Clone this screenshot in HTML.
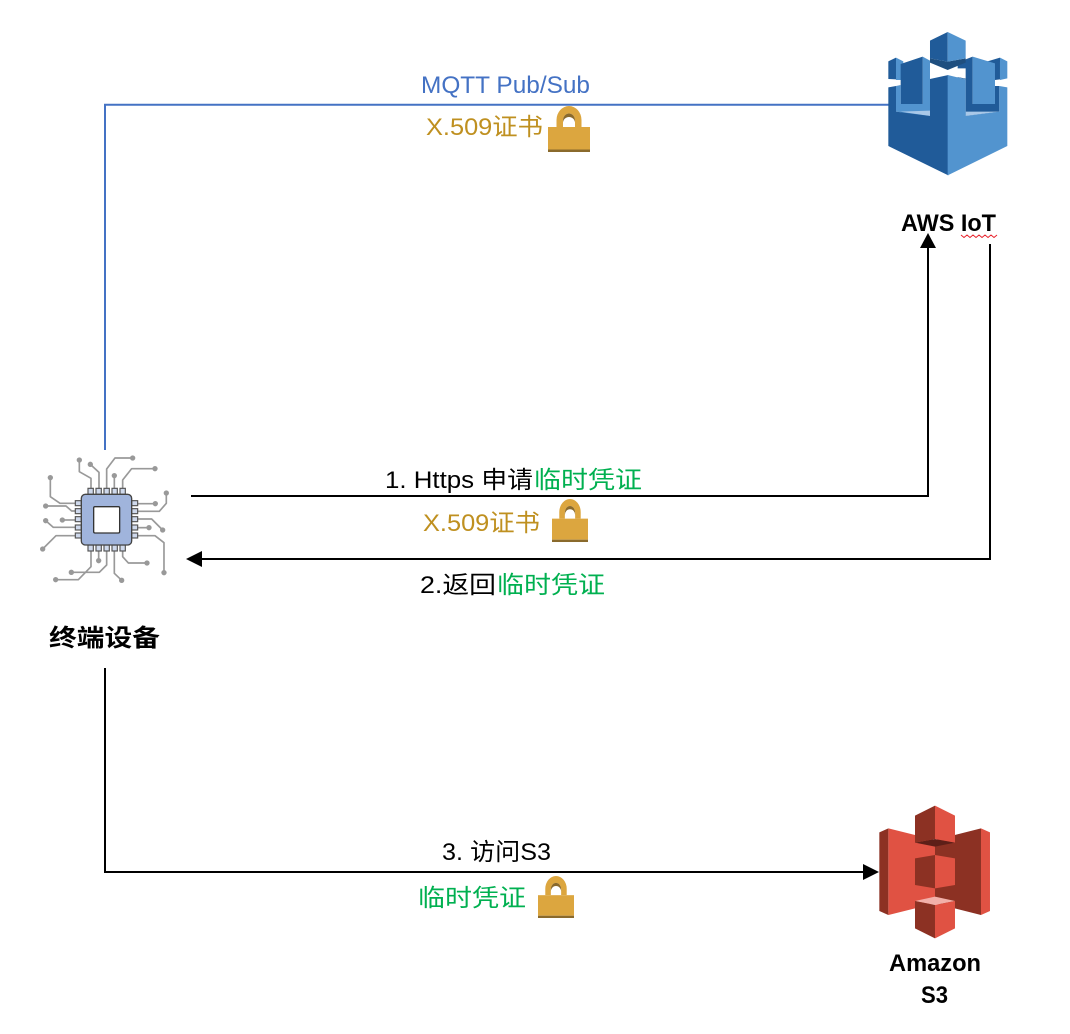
<!DOCTYPE html>
<html><head><meta charset="utf-8"><style>
html,body{margin:0;padding:0;background:#fff;width:1070px;height:1034px;overflow:hidden}
svg{display:block}
text{font-family:"Liberation Sans","Noto Sans CJK SC",sans-serif;font-size:24px}
.b{font-weight:bold;fill:#000}
.g{fill:#00b050}.y{fill:#bf9020}
</style></head><body>
<svg width="1070" height="1034" viewBox="0 0 1070 1034" xmlns="http://www.w3.org/2000/svg">
<defs>
<g id="lock">
<path d="M8.500 21V14a12.500 14 0 0 1 25 0V21H27V14.500a6 7 0 0 0-12 0V21Z" fill="#dca63f"/>
<path d="M15 14.500a6 7 0 0 1 12 0V17a6 6 0 0 0-12 0Z" fill="#8a6a2c"/>
<rect x="0" y="21" width="42" height="22.500" fill="#dca63f"/>
<rect x="0" y="43.500" width="42" height="2.500" fill="#8a6a2c"/>
</g>
</defs>
<!-- connectors -->
<path d="M105 450V104.700H890" fill="none" stroke="#4472c4" stroke-width="2"/>
<path d="M191 496H928V246" fill="none" stroke="#000" stroke-width="2"/>
<path d="M928 233L936 248H920Z" fill="#000"/>
<path d="M990 244V559H200" fill="none" stroke="#000" stroke-width="2"/>
<path d="M186 559L202 551V567Z" fill="#000"/>
<path d="M105 668V872H865" fill="none" stroke="#000" stroke-width="2"/>
<path d="M879 872L863 864V880Z" fill="#000"/>

<!-- AWS IoT icon -->
<g transform="translate(870,20) scale(0.3333)">
<!-- left small tower -->
<path d="M55 124L78 113V178L55 177Z" fill="#205b99"/>
<path d="M78 113L100 124V180H78Z" fill="#5294cf"/>
<!-- left tower -->
<path d="M158 110L180 122V288H92V252H158Z" fill="#5294cf"/>
<path d="M92 132L158 110V252H92Z" fill="#205b99"/>
<path d="M78 198L92 195V252H180V288L78 275Z" fill="#5294cf"/>
<path d="M90 275L180 272V288Z" fill="#a9c8e8"/>
<!-- right small tower -->
<path d="M350 125L390 113V178L375 180H350Z" fill="#205b99"/>
<path d="M390 113L412 124V175L390 180Z" fill="#5294cf"/>
<!-- right tower -->
<path d="M263 135L287 118L308 110V252H375V198H388V275L287 288V178L263 172Z" fill="#205b99"/>
<path d="M308 110L375 130V252H308Z" fill="#5294cf"/>
<path d="M287 275H388L287 288Z" fill="#a9c8e8"/>
<!-- gap -->
<path d="M203 145H287V176L233 165L203 172Z" fill="#fff"/>
<!-- body -->
<path d="M55 202L78 198V275L180 288V177L235 165V466L55 378Z" fill="#205b99"/>
<path d="M412 202L388 198V275L287 288V178L233 165V466L412 378Z" fill="#5294cf"/>
<!-- top cube -->
<path d="M180 115L233 125L287 115V128L233 150L180 128Z" fill="#1f4f7f"/>
<path d="M180 62L233 36V125L180 115Z" fill="#205b99"/>
<path d="M233 36L287 62V115L233 125Z" fill="#5294cf"/>
</g>

<!-- chip icon -->
<g transform="translate(30,445) scale(0.3333)">
<g fill="none" stroke="#999" stroke-width="5" stroke-linejoin="round">
<path d="M148 45V80L183 100V130"/>
<path d="M181 58L207 82V130"/>
<path d="M308 39H255L230 72V130"/>
<path d="M253 92V130"/>
<path d="M375 71H305L278 105V130"/>
<path d="M61 98V155L90 175H140"/>
<path d="M47 183H108L125 198H140"/>
<path d="M97 225H140"/>
<path d="M47 227L70 247H140"/>
<path d="M38 312L78 272H140"/>
<path d="M376 176H320"/>
<path d="M409 144V175L388 199H320"/>
<path d="M398 255L365 222H320"/>
<path d="M357 248H320"/>
<path d="M402 383V293L375 272H320"/>
<path d="M77 404H145L183 365V310"/>
<path d="M206 347V310"/>
<path d="M124 382H208L230 360V310"/>
<path d="M275 406L253 385V310"/>
<path d="M351 354H295L278 335V310"/>
</g>
<g fill="#999">
<circle cx="148" cy="45" r="8"/><circle cx="181" cy="58" r="8"/><circle cx="308" cy="39" r="8"/><circle cx="253" cy="92" r="8"/><circle cx="375" cy="71" r="8"/>
<circle cx="61" cy="98" r="8"/><circle cx="47" cy="183" r="8"/><circle cx="97" cy="225" r="8"/><circle cx="47" cy="227" r="8"/><circle cx="38" cy="312" r="8"/>
<circle cx="376" cy="176" r="8"/><circle cx="409" cy="144" r="8"/><circle cx="398" cy="255" r="8"/><circle cx="357" cy="248" r="8"/><circle cx="402" cy="383" r="8"/>
<circle cx="77" cy="404" r="8"/><circle cx="206" cy="347" r="8"/><circle cx="124" cy="382" r="8"/><circle cx="275" cy="406" r="8"/><circle cx="351" cy="354" r="8"/>
</g>
<g fill="#cfd9ec" stroke="#555" stroke-width="3.500">
<rect x="174" y="130" width="16" height="18"/><rect x="198" y="130" width="16" height="18"/><rect x="222" y="130" width="16" height="18"/><rect x="246" y="130" width="16" height="18"/><rect x="270" y="130" width="16" height="18"/>
<rect x="174" y="300" width="16" height="18"/><rect x="198" y="300" width="16" height="18"/><rect x="222" y="300" width="16" height="18"/><rect x="246" y="300" width="16" height="18"/><rect x="270" y="300" width="16" height="18"/>
<rect x="136" y="167" width="18" height="15"/><rect x="136" y="191" width="18" height="15"/><rect x="136" y="215" width="18" height="15"/><rect x="136" y="240" width="18" height="15"/><rect x="136" y="264" width="18" height="15"/>
<rect x="305" y="167" width="18" height="15"/><rect x="305" y="191" width="18" height="15"/><rect x="305" y="215" width="18" height="15"/><rect x="305" y="240" width="18" height="15"/><rect x="305" y="264" width="18" height="15"/>
</g>
<rect x="154" y="148" width="151" height="152" rx="12" fill="#a0b4dc" stroke="#444" stroke-width="4"/>
<rect x="191" y="185" width="78" height="79" rx="4" fill="#fff" stroke="#333" stroke-width="4"/>
</g>

<!-- S3 icon -->
<g transform="translate(870,795) scale(0.3333)">
<path d="M55 100L195 135V325L55 360Z" fill="#e05243"/>
<path d="M28 112L55 100V360L28 348Z" fill="#8c3123"/>
<path d="M333 100L195 135V325L333 360Z" fill="#8c3123"/>
<path d="M333 100L360 112V348L333 360Z" fill="#e05243"/>
<path d="M135 143L195 132L255 143L195 155Z" fill="#5e1f18"/>
<path d="M135 62L195 32V132L135 143Z" fill="#8c3123"/>
<path d="M195 32L255 62V143L195 132Z" fill="#e05243"/>
<path d="M135 190L195 180V280L135 270Z" fill="#8c3123"/>
<path d="M195 180L255 190V270L195 280Z" fill="#e05243"/>
<path d="M135 318L195 305L255 318L195 330Z" fill="#f2b0a9"/>
<path d="M135 318L195 330V430L135 400Z" fill="#8c3123"/>
<path d="M195 330L255 318V400L195 430Z" fill="#e05243"/>
</g>

<!-- locks -->
<use href="#lock" x="548" y="106"/>
<use href="#lock" transform="translate(552,499) scale(0.857,0.935)"/>
<use href="#lock" transform="translate(538,876) scale(0.857,0.913)"/>

<!-- labels -->
<text x="421" y="93" fill="#4472c4" textLength="169" lengthAdjust="spacingAndGlyphs">MQTT Pub/Sub</text>
<text class="y" x="426" y="135" textLength="117" lengthAdjust="spacingAndGlyphs">X.509证书</text>
<text x="385" y="488" fill="#000" textLength="148" lengthAdjust="spacingAndGlyphs">1. Https 申请</text>
<text class="g" x="534" y="488" textLength="108" lengthAdjust="spacingAndGlyphs">临时凭证</text>
<text class="y" x="423" y="531" textLength="117" lengthAdjust="spacingAndGlyphs">X.509证书</text>
<text x="420" y="593" fill="#000" textLength="76" lengthAdjust="spacingAndGlyphs">2.返回</text>
<text class="g" x="497" y="593" textLength="108" lengthAdjust="spacingAndGlyphs">临时凭证</text>
<text x="442" y="860" fill="#000" textLength="109" lengthAdjust="spacingAndGlyphs">3. 访问S3</text>
<text class="g" x="418" y="906" textLength="108" lengthAdjust="spacingAndGlyphs">临时凭证</text>
<text class="b" x="49" y="646" textLength="111" lengthAdjust="spacingAndGlyphs">终端设备</text>
<text class="b" x="901" y="231" textLength="95" lengthAdjust="spacingAndGlyphs">AWS IoT</text>
<path d="M961 235l3 2.500 3-2.500 3 2.500 3-2.500 3 2.500 3-2.500 3 2.500 3-2.500 3 2.500 3-2.500 3 2.500 3-2.500" fill="none" stroke="#e8202a" stroke-width="1"/>
<text class="b" x="889" y="971" textLength="92" lengthAdjust="spacingAndGlyphs">Amazon</text>
<text class="b" x="921" y="1003" textLength="27" lengthAdjust="spacingAndGlyphs">S3</text>
</svg>
</body></html>
